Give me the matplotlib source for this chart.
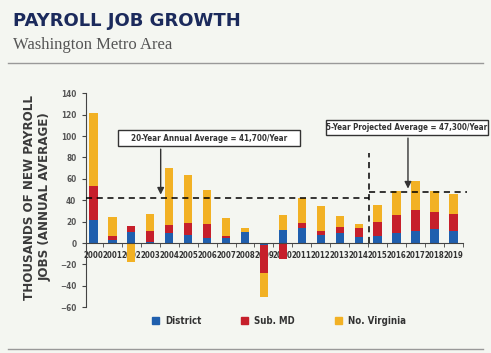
import matplotlib
matplotlib.use("Agg")
import matplotlib.pyplot as plt
import numpy as np
from matplotlib.patches import Rectangle
from matplotlib.lines import Line2D
from matplotlib import font_manager
from matplotlib.font_manager import FontProperties

years = [str(y) for y in range(2000, 2020)]
district = [22, 3, 10, 1, 9, 8, 5, 5, 10, -2, 12, 14, 8, 9, 6, 7, 9, 11, 13, 11]
sub_md   = [31, 4, 6, 10, 8, 11, 13, 2, -1, -26, -15, 5, 3, 6, 8, 13, 17, 20, 16, 16]
no_va    = [69, 17, -18, 16, 53, 45, 32, 16, 4, -22, 14, 23, 24, 10, 4, 16, 23, 27, 20, 19]
series_names = ["District", "Sub. MD", "No. Virginia"]
avg20 = 41.7
avg5 = 47.3

# find a condensed bold font if one is installed
cond = None
for f in font_manager.fontManager.ttflist:
    fn = f.fname.lower()
    if ("condensed" in fn or "narrow" in fn) and ("bold" in fn) and "oblique" not in fn and "italic" not in fn:
        cond = f.fname
        break
if cond is not None:
    def fp(size):
        return FontProperties(fname=cond, size=size)
else:
    def fp(size):
        return FontProperties(family="Roboto", weight="bold", size=size)
k = 1.0

colors = ["#1f5fae", "#c61f2b", "#f2b124"]
bg = "#f4f6f1"

fig = plt.figure(figsize=(4.91, 3.53), dpi=100, facecolor=bg)
ax = fig.add_axes([0.1752, 0.1295, 0.7684, 0.6062], facecolor=bg)

x = np.arange(len(years))
pos_b = np.zeros(len(years))
neg_b = np.zeros(len(years))
for vals, c, name in zip([district, sub_md, no_va], colors, series_names):
    v = np.array(vals, dtype=float)
    bottoms = np.where(v >= 0, pos_b, neg_b)
    ax.bar(x, v, 0.44, bottom=bottoms, color=c, label=name, zorder=2)
    pos_b = pos_b + np.where(v >= 0, v, 0)
    neg_b = neg_b + np.where(v < 0, v, 0)

ax.set_xlim(-0.39, 19.52)
ax.set_ylim(-60, 140)
ax.set_yticks(range(-60, 141, 20))
for s in ["top", "right"]:
    ax.spines[s].set_visible(False)
ax.spines["bottom"].set_position(("data", 0))
ax.spines["bottom"].set_color("#444444")
ax.spines["left"].set_color("#444444")
ax.spines["bottom"].set_zorder(3)
ax.set_xticks(x)
ax.set_xticklabels(years)
ax.set_xticks(np.arange(0.5, 19.6, 1), minor=True)
ax.tick_params(axis="x", which="major", length=0, pad=6)
ax.tick_params(axis="x", which="minor", length=3, direction="out", color="#444444")
ax.tick_params(axis="y", length=3, color="#444444", pad=4)
for t in ax.get_xticklabels():
    t.set_fontproperties(fp(5.7 * k)); t.set_color("#333333")
for t in ax.get_yticklabels():
    t.set_fontproperties(fp(5.9 * k)); t.set_color("#555555")

dash = (0, (4, 3))
ax.plot([-0.39, 14.55], [avg20, avg20], color="black", lw=1.1, linestyle=dash, zorder=4)
ax.plot([14.55, 19.7], [avg5, avg5], color="black", lw=1.1, linestyle=dash, zorder=4, clip_on=False)
ax.plot([14.55, 14.55], [0, 84], color="black", lw=1.1, linestyle=dash, zorder=4)

# annotation boxes
ax.add_patch(Rectangle((1.3, 90.4), 9.6, 14.9, facecolor="white", edgecolor="#333333", lw=1.0, zorder=5, clip_on=False))
ax.text(6.1, 97.8, "20-Year Annual Average = 41,700/Year", ha="center", va="center",
        fontproperties=fp(5.8 * k), color="#333333", zorder=6)
ax.annotate("", xy=(3.55, avg20 + 1), xytext=(3.55, 90.4),
            arrowprops=dict(arrowstyle="-|>,head_length=0.4,head_width=0.2", color="#333333", lw=1.0), zorder=5)

ax.add_patch(Rectangle((12.3, 100.7), 8.5, 14.6, facecolor="white", edgecolor="#333333", lw=1.0, zorder=5, clip_on=False))
ax.text(16.55, 108.0, "5-Year Projected Average = 47,300/Year", ha="center", va="center",
        fontproperties=fp(5.8 * k), color="#333333", zorder=6, clip_on=False)
ax.annotate("", xy=(16.6, avg5 + 1), xytext=(16.6, 100.7),
            arrowprops=dict(arrowstyle="-|>,head_length=0.4,head_width=0.2", color="#333333", lw=1.0), zorder=5,
            annotation_clip=False)

# titles
fig.text(13 / 491, 1 - 21 / 353, "PAYROLL JOB GROWTH", fontsize=13, fontweight="bold",
         color="#1b2a5c", va="center", ha="left")
fig.text(13 / 491, 1 - 45 / 353, "Washington Metro Area", fontsize=12, family="Liberation Serif",
         color="#555555", va="center", ha="left")
fig.text(37 / 491, 1 - 197 / 353, "THOUSANDS OF NEW PAYROLL\nJOBS (ANNUAL AVERAGE)", rotation=90,
         fontsize=8.6, fontweight="bold", color="#3a3a3a", ha="center", va="center", linespacing=1.25)

# separator lines
fig.add_artist(Line2D([8 / 491, 483 / 491], [1 - 63 / 353, 1 - 63 / 353], color="#999999", lw=1.0))
fig.add_artist(Line2D([8 / 491, 483 / 491], [1 - 349 / 353, 1 - 349 / 353], color="#999999", lw=1.0))

# legend
handles = [Rectangle((0, 0), 1, 1, color=c) for c in colors]
leg = fig.legend(handles, series_names, loc="center", bbox_to_anchor=(0.568, 1 - 321 / 353), ncol=3,
                 frameon=False, handlelength=0.75, handleheight=0.75, columnspacing=4.15, handletextpad=0.6,
                 prop=fp(6.9 * k))
for t in leg.get_texts():
    t.set_color("#333333")

fig.savefig("out.png", dpi=100, facecolor=bg)
